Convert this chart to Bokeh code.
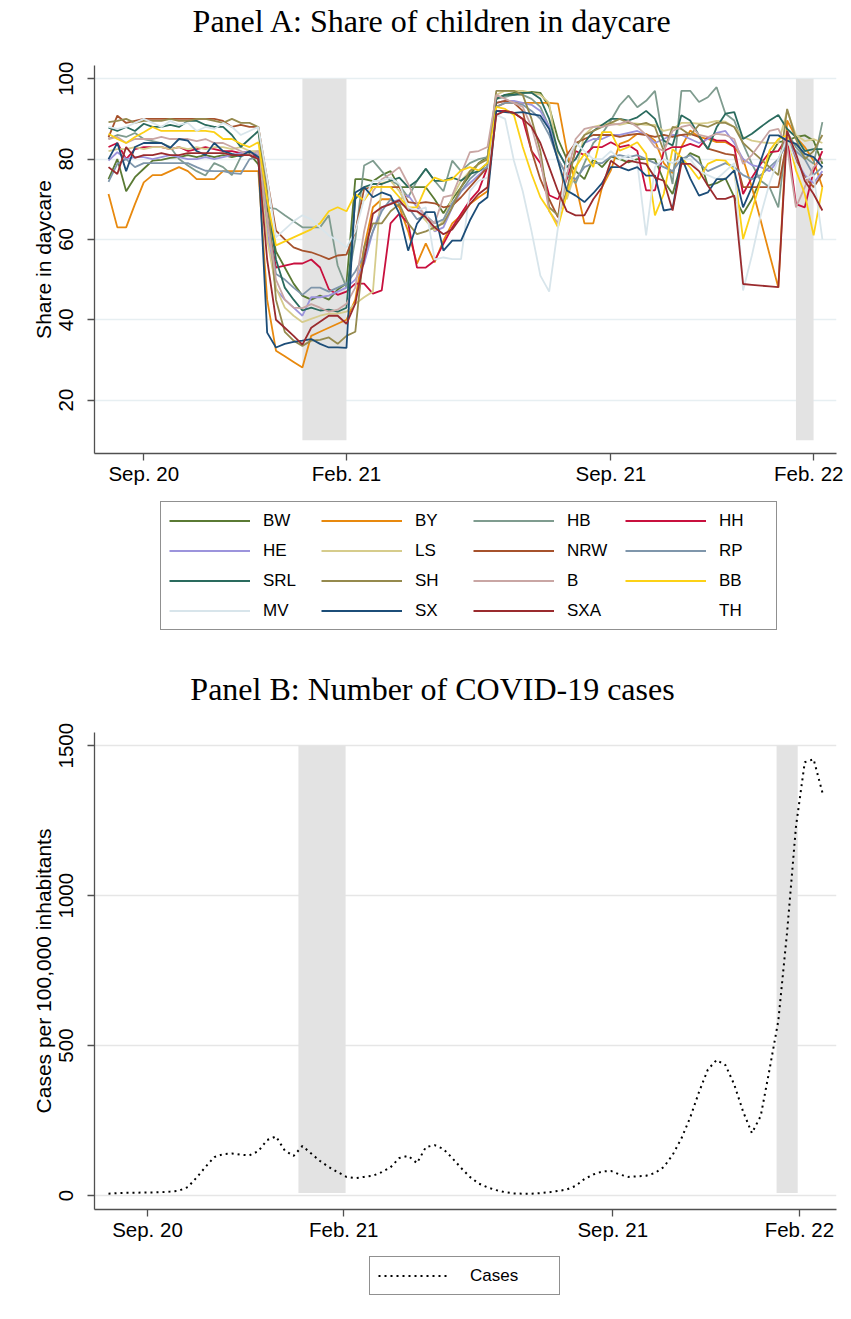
from bokeh.plotting import figure
from bokeh.models import Range1d, FixedTicker, Legend, LegendItem, Label
from bokeh.layouts import column
from bokeh.embed import file_html
from bokeh.resources import INLINE

# ---------------- data ----------------
week = list(range(82))  # weekly observation index

states = ["BW", "BY", "HB", "HH", "HE", "LS", "NRW", "RP",
          "SRL", "SH", "B", "BB", "MV", "SX", "SXA", "TH"]

colors = ["#5a7a34", "#e8890e", "#7f9c8f", "#c8103e", "#9c94dc", "#d6cc8c",
          "#a6522c", "#7f96ab", "#2a6b5e", "#958a4e", "#c9a6a4", "#fcd116",
          "#d8e5eb", "#1c4d78", "#9a2b2e", "#ffffff"]

bw = [75, 80, 72, 75.5, 77.6, 79.6, 79.8, 80.3, 80.5, 81, 80.5, 81, 80.5, 81, 80.5, 81, 81.3, 78.7,
      68, 57, 53, 49, 46, 45, 46, 45, 47.5, 49,
      75, 75, 74.5, 76, 77, 73, 73, 73, 73, 70, 66.5, 70, 73, 76, 79, 80.5,
      95, 96, 96.5, 96.5, 96.7, 96.5,
      93, 85, 80, 77, 75, 80,
      78, 80.6, 80, 79.2, 80, 80, 80, 74.6, 71.3, 79, 81.5, 80.5, 73.4, 74, 75.2, 70.5,
      66.4, 70, 75, 80.6, 84.2,
      84.6, 85.5, 85.9, 84.6, 78.8]
by = [71.3, 63, 63, 68.8, 74.2, 76, 76, 77, 78, 77, 75, 75, 75, 77, 77, 77, 77, 77,
      45, 32.3, 30.9, 29.5, 28.1, 36, 37, 38, 39, 40,
      45, 58, 68, 70, 70, 68, 62, 54, 59, 54.3, 59.7, 64, 66, 68.8, 70.5, 72,
      93, 94, 94, 94, 94, 94,
      94, 93.8, 82, 73.8, 64, 64,
      73, 77.2, 83.8, 84.6, 86.3, 86.3, 84.6, 79, 76.5, 83, 87.1, 85.5, 85, 84.2, 84.2, 83,
      80, 73, 64.7, 56.3, 48,
      89.6, 85.5, 83, 79.6, 73]
hb = [85, 86, 85.5, 86.5, 85, 84.5, 84, 83, 80, 78.4, 77, 75.9, 79, 78, 76, 80.5, 81.7, 82,
      68, 67.6, 66, 64.5, 63, 63, 63, 66, 53.5, 48,
      60, 78.4, 79.6, 77, 74.6, 73.5, 70.5, 74.6, 77.6, 74.6, 72, 79.6, 77, 79, 80, 80.5,
      95, 95.5, 96, 96, 95, 93,
      88, 80, 76, 74, 79, 84,
      86.3, 89.6, 93.4, 95.8, 92.9, 94.5, 97, 83.8, 73.8, 97, 97, 94.2, 95.4, 97.9, 91.3, 89.6,
      83.8, 78.8, 74.6, 73, 68,
      86.7, 83, 80.5, 78.8, 89.2]
hh = [83, 84, 80, 82.5, 83, 83, 83, 82.5, 83, 82, 82.5, 83, 82.5, 82, 82, 81.5, 82, 80,
      65, 53, 53.5, 54, 54, 55, 53, 47.6, 46.2, 47,
      49, 49, 46.5, 47.3, 64, 66.4, 64, 53, 53, 54.7, 58.9, 63, 66.4, 69.7, 72.2, 78,
      92, 92, 91.5, 90, 82, 79,
      71, 70, 75, 82, 81, 83,
      83, 84.2, 83, 83.5, 82, 72.2, 72.2, 82, 83, 83, 83.8, 83, 85.5, 84.6, 84.6, 83,
      71.3, 75.4, 78.8, 81.7, 82,
      85.5, 68.8, 68, 77, 82]
he = [79.6, 81.7, 80, 80.5, 80.5, 80, 80.5, 81, 80.5, 80, 80, 80.5, 80, 80.5, 81, 81.5, 82, 81,
      62, 47.6, 45, 43, 41, 45.6, 45.6, 46, 47, 48,
      50, 54, 62, 68, 69, 70, 71, 68, 66, 62, 63, 68, 72, 74, 76, 78,
      94, 94.5, 94.5, 94, 93.5, 92,
      88, 82, 78, 80, 84, 85,
      85, 86, 86, 86.5, 87, 86, 84, 85, 86, 86, 85, 84, 85, 86.5, 87, 84,
      80, 78.5, 78, 77, 79.6,
      86, 80, 76, 74, 77]
ls = [82, 82.5, 82.5, 83, 82.5, 83, 83, 82.5, 83, 82.5, 83, 82.5, 83, 83, 82.5, 83, 82, 82,
      60, 48, 43, 41, 39.4, 40.2, 41, 41.5, 41.5, 42,
      44, 45.6, 47, 74, 74.6, 72, 68, 67, 64.7, 62.2, 64.7, 70.5, 74.6, 77, 78.8, 80,
      96, 97, 97, 97, 96.5, 96,
      94, 80, 70, 77, 86, 88,
      88.5, 89, 88.5, 89, 88.8, 88.5, 88.5, 87, 87.5, 89, 89, 88.8, 89, 89.5, 89.3, 88,
      85.5, 84.6, 84.2, 84, 84,
      92, 86, 84.5, 85, 84]
nrw = [85.4, 90.8, 89, 89.5, 90, 90, 90, 90, 90, 90, 90, 90, 90, 89.5, 88, 88.5, 88, 88,
       75, 62.2, 60, 58, 57.2, 56.8, 56, 55.1, 56, 56.2,
       62, 72.6, 73, 73, 73, 73, 69.3, 69, 69.3, 69, 68, 68.4, 70.5, 73, 75.5, 78,
       94, 94.5, 94, 92, 82, 75,
       70, 65.5, 81, 84, 85, 86,
       86, 86, 85.5, 86, 86.3, 86, 85.5, 86, 85.5, 86, 86.3, 85.5, 82.6, 82, 81.3, 81,
       73, 73, 73, 73, 73,
       84.6, 79.6, 75.5, 73, 76.3]
rp = [74.3, 78.8, 80, 78, 79, 79, 79, 79, 79, 79, 78, 77.1, 77, 77, 76.5, 76.3, 80, 80.5,
      65, 51.4, 50, 48, 46.2, 48, 48, 47, 48, 49,
      52, 56, 62, 67, 70, 69, 68, 65, 66, 64, 65, 69, 72, 75, 77, 78,
      93, 94, 94, 93.5, 92, 90,
      86, 80, 76, 75, 78, 79,
      79, 80.6, 81, 80.5, 81, 80, 79, 78, 77, 80, 81, 79, 77, 78, 79, 78,
      76, 75, 76, 78, 80,
      84, 82, 80, 76, 78]
srl = [87.8, 87, 88, 87, 88.8, 88, 88, 88.5, 88, 89.5, 89.5, 88.5, 88, 88, 86, 83, 85, 87,
       70, 55, 48, 45, 42.3, 43, 42.3, 42.5, 42, 43,
       70, 73, 73.8, 73.8, 74.6, 75.4, 73, 74.6, 77.6, 74.6, 74.6, 75.4, 74.6, 76.3, 77, 79,
       95, 96, 96, 96.5, 96.5, 95,
       90, 82, 78, 80, 84, 87,
       88.5, 90, 90, 89.6, 90.4, 92, 90, 84.6, 83.4, 90.9, 89.6, 85.9, 82.5, 87.9, 91.3, 91.7,
       85, 86.3, 88, 89.6, 91,
       87.5, 85.5, 82, 82.5, 82.5]
sh = [89.2, 89.5, 90, 89, 89.5, 89.5, 89.5, 90, 89.5, 89.5, 90, 90, 89.5, 89, 90, 89, 89, 88,
      72, 45, 37, 34.8, 33.5, 34.8, 35, 35.6, 34, 36,
      37, 58, 64, 64, 67, 68.8, 64, 61.3, 62, 63, 64, 68, 73, 77, 78.8, 80,
      97, 97, 97, 96, 90, 82,
      68, 66, 72, 83, 86, 87,
      88, 89, 90, 89, 88.5, 89, 88, 82, 88, 87.5, 86, 88.5, 88, 89, 89, 88,
      84, 82, 80, 78, 76,
      92.5, 85, 80, 82, 86]
be = [85, 85.5, 84, 85, 85, 85, 85.5, 85, 85, 85, 84.5, 85, 84, 84, 83, 82, 81, 82,
      65, 50, 45, 43, 42.9, 43.9, 43, 42, 42.5, 44,
      48, 62, 72, 75, 76.3, 78, 73.8, 69, 65.5, 64, 70.5, 71, 76.3, 81.7, 82, 83,
      96, 95, 94, 93, 88, 80,
      67, 64, 76, 85, 87.5, 88,
      88, 88.5, 88.8, 89.5, 88, 86, 83, 82, 87, 88, 88.5, 86, 85.5, 86.3, 86, 85,
      78.8, 81, 84, 87, 87.5,
      83, 68, 73, 78, 80]
bb = [86.3, 85, 84, 85.5, 86.7, 88, 87, 87, 87, 87, 87, 87, 86.7, 85, 85, 83.8, 83, 84.2,
      70, 58.5, 59.5, 60.5, 61.5, 62.5, 64, 67, 68, 67,
      71.3, 69.7, 73, 73, 73, 70.5, 68, 68, 73, 75.4, 74.6, 75, 77.2, 78, 77.2, 79,
      93, 92.5, 91, 83, 76.3, 70.5,
      67.2, 63, 71.3, 78, 81.3, 78,
      86.7, 86.7, 82.1, 83, 84.2, 81.3, 66, 71.3, 82.5, 80.4, 77.9, 75, 78.8, 79.8, 79.6, 77.2,
      60.1, 67.2, 74.6, 82.1, 85,
      85.9, 77.2, 71.3, 61, 73]
mv = [88, 87.5, 88, 89, 90, 89, 88, 89.5, 88.5, 89, 87, 88, 87.5, 89, 88, 86, 87, 88,
      75, 60.5, 62.5, 64.5, 66, 65, 63, 61, 59.7, 58,
      62, 70, 74.6, 74.6, 75.4, 73.8, 68, 67.2, 68, 55, 55.5, 55.1, 55.1, 72, 74.6, 75.4,
      91, 90, 79.6, 72, 62, 51,
      47, 63, 80, 84, 82, 80,
      80, 82, 80, 81, 79, 61, 78, 80, 79, 80, 80, 77, 76, 75, 77, 79,
      47.3, 56, 66, 74, 80,
      85, 79, 75, 76, 60]
sx = [80, 84, 77, 83, 84, 84, 84, 82.8, 85, 84.6, 82, 81, 84, 82, 81.3, 80.7, 82, 80.5,
      36.8, 33.1, 34, 34.5, 34.8, 35.2, 34, 33.1, 33.1, 33,
      71.7, 73, 70.5, 71.7, 70.9, 66.4, 57.2, 63.9, 66.8, 66.8, 57.2, 59.7, 59.7, 64.7, 68.8, 70.5,
      92, 91.7, 91.5, 91.7, 91.2, 90.8,
      87.5, 79.6, 72.2, 70.9, 69.3, 71.5,
      74, 78, 78, 77.2, 78, 75.9, 75.9, 67.2, 67.6, 80.5, 75.2, 70.9, 71.7, 75, 75, 77.2,
      68, 73, 79.6, 85.9, 85.9,
      84.6, 83.8, 81.3, 80.5, 78]
sxa = [78, 76.3, 83, 80.3, 81, 81, 81.5, 81, 81, 81.5, 81.5, 81.5, 81.5, 81.5, 81, 81, 81, 80,
       55, 40, 38, 36, 33.8, 38, 39.5, 41, 41, 39,
       44, 55, 66.4, 68, 68.8, 69.7, 67.2, 67, 65.5, 63, 61.3, 62.5, 65.5, 68.8, 71.3, 73,
       91, 92, 91.5, 90, 88, 84,
       78, 72, 67, 66, 66, 70,
       73, 79.6, 78, 79.6, 79.2, 78.8, 75.4, 74.6, 67.2, 78.8, 78.8, 77, 73.4, 70.1, 70.1, 70.9,
       48.9, 48.7, 48.5, 48.3, 48.1,
       87, 81.3, 74.6, 71.3, 67.2]
th = []  # no visible series for TH

share = [bw, by, hb, hh, he, ls, nrw, rp, srl, sh, be, bb, mv, sx, sxa, th]

cases = [6, 8, 9, 9, 10, 10, 11, 13, 16, 28, 60, 95, 128, 138, 140, 136, 134, 148,
         185, 197, 150, 132, 165, 140, 115, 95, 78, 62, 58, 62, 66, 78, 94, 125,
         132, 108, 161, 168, 155, 125, 92, 62, 40, 27, 18, 11, 7, 6, 6, 8, 11, 15,
         20, 32, 55, 70, 80, 82, 70, 62, 64, 66, 75, 95, 135, 190, 260, 345, 420,
         452, 435, 370, 280, 208, 265, 420, 583, 880, 1230, 1445, 1455, 1344]

# closure periods (shaded)
a_shade_start = [22, 78]
a_shade_end = [27, 80]
b_shade_start = [21.55, 75.8]
b_shade_end = [26.9, 78.2]

a_ticks = [4, 27, 57, 80]
b_ticks = [4.42, 26.69, 57.21, 78.39]
tick_labels = ["Sep. 20", "Feb. 21", "Sep. 21", "Feb. 22"]

title_a = "Panel A: Share of children in daycare"
title_b = "Panel B: Number of COVID-19 cases"

SANS = "Liberation Sans"
SERIF = "Liberation Serif"
AXIS = "#505050"
W = 843


def style(p, xticks, yticks, ylabel, grid_color):
    p.outline_line_color = None
    p.xgrid.visible = False
    p.ygrid.grid_line_color = grid_color
    p.ygrid.grid_line_width = 1.5
    p.xaxis.ticker = FixedTicker(ticks=xticks)
    p.xaxis.major_label_overrides = {t: l for t, l in zip(xticks, tick_labels)}
    p.yaxis.ticker = FixedTicker(ticks=yticks)
    for ax in (p.xaxis[0], p.yaxis[0]):
        ax.axis_line_color = AXIS
        ax.axis_line_width = 1.3
        ax.major_tick_line_color = AXIS
        ax.major_tick_line_width = 1.3
        ax.major_tick_out = 7
        ax.major_tick_in = 0
        ax.minor_tick_line_color = None
        ax.major_label_text_font = SANS
        ax.major_label_text_font_size = "20.5px"
        ax.major_label_text_color = "black"
        ax.axis_label_text_font = SANS
        ax.axis_label_text_font_size = "21px"
        ax.axis_label_text_font_style = "normal"
        ax.axis_label_text_color = "black"
    p.xaxis.major_label_standoff = 1
    p.yaxis.major_label_standoff = 14
    p.yaxis.major_label_orientation = "vertical"
    p.yaxis.axis_label = ylabel
    p.yaxis.axis_label_standoff = 2


def strip(height, fill="white"):
    f = figure(width=W, height=height, output_backend="svg", toolbar_location=None,
               x_range=Range1d(0, 1), y_range=Range1d(0, 1),
               x_axis_type=None, y_axis_type=None, min_border=0)
    f.outline_line_color = None
    f.xgrid.visible = False
    f.ygrid.visible = False
    f.background_fill_color = fill
    f.border_fill_color = fill
    return f


def title_label(text, y):
    return Label(x=338, y=y, x_units="screen", y_units="screen", text=text,
                 text_align="center", text_baseline="alphabetic",
                 text_font=SERIF, text_font_size="32px", text_color="black")


def make_legend(items, loc, **kw):
    return Legend(items=items, orientation="horizontal", location=loc,
                  glyph_height=21, label_height=21, padding=8, margin=0,
                  border_line_color="#222222", border_line_width=1,
                  label_text_font=SANS, label_text_font_size="17px",
                  label_text_color="black", background_fill_color="white", **kw)


# ---------------- Panel A title strip ----------------
tA = strip(50)
tA.add_layout(title_label(title_a, 29.5))

# ---------------- Panel A ----------------
pA = figure(width=W, height=445, output_backend="svg", toolbar_location=None,
            x_range=Range1d(-1.59, 82.6), y_range=Range1d(6.7, 103.3),
            min_border_left=94, min_border_right=7, min_border_top=15, min_border_bottom=42)
style(pA, a_ticks, [20, 40, 60, 80, 100], "Share in daycare", "#e7eff2")
pA.quad(left=a_shade_start, right=a_shade_end, bottom=10, top=100,
        fill_color="#e3e3e3", line_color=None)
for name, col, vals in zip(states, colors, share):
    pA.line(x=week[:len(vals)], y=vals, line_color=col, line_width=1.8)

# ---------------- legend A + Panel B title strip ----------------
lA = strip(213)
nan = float("nan")
items = []
for name, col in zip(states, colors):
    r = lA.line(x=[nan], y=[nan], line_color=col, line_width=2.2,
                line_alpha=(0 if name == "TH" else 1))
    items.append(LegendItem(label=name, renderers=[r]))
lA.add_layout(make_legend(items, (66, 78), ncols=4, glyph_width=81, label_width=49,
                          label_standoff=13, spacing=9))
lA.add_layout(title_label(title_b, 19.8))

# thin separator line above panel B
sep = strip(1, fill="#dcdcdc")

# ---------------- Panel B ----------------
pB = figure(width=W, height=536, output_backend="svg", toolbar_location=None,
            x_range=Range1d(-1.59, 82.6), y_range=Range1d(-46.7, 1544),
            min_border_left=94, min_border_right=7, min_border_top=23, min_border_bottom=36)
style(pB, b_ticks, [0, 500, 1000, 1500], "Cases per 100,000 inhabitants", "#e6e6e6")
pB.quad(left=b_shade_start, right=b_shade_end, bottom=8, top=1500,
        fill_color="#e3e3e3", line_color=None)
pB.line(x=week, y=cases, line_color="black", line_width=2, line_dash="2 4")

lB = strip(66)
rc = lB.line(x=[nan], y=[nan], line_color="black", line_width=2, line_dash="2 4")
lB.add_layout(make_legend([LegendItem(label="Cases", renderers=[rc])], (275, 16),
                          glyph_width=72, label_width=81, label_standoff=20))

layout = column(tA, pA, lA, sep, pB, lB)
open("out.html", "w").write(file_html(layout, INLINE))
